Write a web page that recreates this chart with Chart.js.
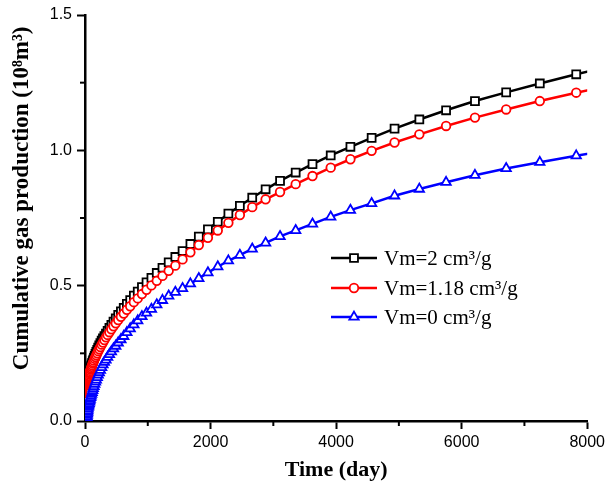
<!DOCTYPE html>
<html>
<head>
<meta charset="utf-8">
<script src="https://cdn.jsdelivr.net/npm/chart.js"></script>
<style>
  html, body { margin: 0; padding: 0; background: #fff; }
  #wrap { width: 609px; height: 489px; }
</style>
</head>
<body>
<div id="wrap"><canvas id="gas"></canvas></div>
<script>
// time steps (day)
const times = [2, 28, 31, 33, 36, 39, 42, 45, 49, 53, 57, 61, 66, 72, 77, 83, 90, 97, 105, 114,
  123, 132, 143, 155, 167, 180, 195, 210, 227, 245, 265, 286, 309, 334, 360, 389, 420, 454, 490,
  529, 572, 617, 667, 720, 778, 840, 907, 980, 1058, 1143, 1234, 1333, 1439, 1554, 1679, 1813,
  1958, 2115, 2284, 2467, 2664, 2877, 3107, 3356, 3624, 3914, 4228, 4566, 4931, 5326, 5752,
  6212, 6709, 7245, 7825, 8451];

// cumulative gas production (10^8 m3)
const vm2 = [0.076, 0.138, 0.142, 0.144, 0.148, 0.151, 0.155, 0.159, 0.163, 0.166, 0.170, 0.174,
  0.179, 0.184, 0.188, 0.193, 0.198, 0.203, 0.209, 0.215, 0.221, 0.227, 0.234, 0.241, 0.248,
  0.255, 0.263, 0.271, 0.279, 0.288, 0.297, 0.305, 0.314, 0.323, 0.333, 0.344, 0.355, 0.367,
  0.379, 0.392, 0.405, 0.418, 0.433, 0.447, 0.463, 0.478, 0.495, 0.512, 0.529, 0.547, 0.566,
  0.586, 0.606, 0.628, 0.654, 0.681, 0.708, 0.736, 0.766, 0.795, 0.825, 0.856, 0.887, 0.918,
  0.949, 0.981, 1.013, 1.046, 1.080, 1.114, 1.148, 1.182, 1.214, 1.247, 1.281, 1.316];

const vm118 = [0.072, 0.133, 0.137, 0.139, 0.143, 0.146, 0.149, 0.153, 0.157, 0.160, 0.164, 0.167,
  0.172, 0.177, 0.180, 0.185, 0.190, 0.195, 0.200, 0.206, 0.212, 0.217, 0.223, 0.230, 0.236,
  0.243, 0.250, 0.258, 0.265, 0.273, 0.282, 0.290, 0.299, 0.309, 0.318, 0.328, 0.339, 0.350,
  0.361, 0.373, 0.385, 0.397, 0.411, 0.424, 0.439, 0.453, 0.469, 0.485, 0.501, 0.518, 0.536,
  0.555, 0.574, 0.597, 0.623, 0.650, 0.677, 0.704, 0.732, 0.761, 0.790, 0.819, 0.846, 0.875,
  0.905, 0.936, 0.967, 0.998, 1.029, 1.059, 1.090, 1.121, 1.151, 1.182, 1.213, 1.244];

const vm0 = [0.000, 0.005, 0.012, 0.016, 0.022, 0.027, 0.033, 0.038, 0.045, 0.051, 0.056, 0.060,
  0.065, 0.071, 0.075, 0.081, 0.087, 0.093, 0.099, 0.106, 0.113, 0.120, 0.128, 0.136, 0.144,
  0.152, 0.161, 0.170, 0.179, 0.188, 0.198, 0.208, 0.217, 0.226, 0.236, 0.246, 0.256, 0.267,
  0.277, 0.289, 0.301, 0.313, 0.327, 0.341, 0.356, 0.371, 0.386, 0.399, 0.413, 0.430, 0.446,
  0.462, 0.476, 0.490, 0.507, 0.527, 0.548, 0.570, 0.592, 0.613, 0.636, 0.658, 0.682, 0.704,
  0.728, 0.754, 0.779, 0.804, 0.832, 0.857, 0.882, 0.908, 0.933, 0.956, 0.980, 1.004];

const seriesNames = ['Vm=2 cm\u00B3/g', 'Vm=1.18 cm\u00B3/g', 'Vm=0 cm\u00B3/g'];
const xMinorTicks = [1000, 3000, 5000, 7000];
const yMinorTicks = [0.25, 0.75, 1.25];

const pts = arr => times.map((t, i) => ({ x: t, y: arr[i] }));

function series(label, values, color, style, radius, order) {
  return {
    label: label,
    data: pts(values),
    borderColor: color,
    backgroundColor: color,
    borderWidth: 2.5,
    pointStyle: style,
    pointRadius: radius,
    pointBorderWidth: 1.8,
    pointBorderColor: color,
    pointBackgroundColor: '#fff',
    tension: 0,
    order: order
  };
}

// minor ticks and the legend box inside the plot
const extras = {
  id: 'extras',
  afterDraw(chart) {
    const ctx = chart.ctx;
    const xs = chart.scales.x, ys = chart.scales.y;
    ctx.save();
    ctx.strokeStyle = '#000';
    ctx.lineWidth = 2;
    xMinorTicks.forEach(v => {
      const px = xs.getPixelForValue(v);
      ctx.beginPath(); ctx.moveTo(px, xs.top); ctx.lineTo(px, xs.top + 5); ctx.stroke();
    });
    yMinorTicks.forEach(v => {
      const py = ys.getPixelForValue(v);
      ctx.beginPath(); ctx.moveTo(ys.right, py); ctx.lineTo(ys.right - 5, py); ctx.stroke();
    });

    const x0 = 331, x1 = 377, textX = 384;
    const rows = [258, 288, 317];
    ctx.font = '21px "Liberation Serif", "Times New Roman", serif';
    ctx.textBaseline = 'middle';
    ctx.textAlign = 'left';
    chart.data.datasets.forEach((ds, i) => {
      const y = rows[i];
      ctx.strokeStyle = ds.borderColor;
      ctx.lineWidth = ds.borderWidth;
      ctx.beginPath(); ctx.moveTo(x0, y); ctx.lineTo(x1, y); ctx.stroke();
      ctx.fillStyle = '#fff';
      ctx.lineWidth = ds.pointBorderWidth;
      Chart.helpers.drawPoint(ctx, {
        pointStyle: ds.pointStyle,
        radius: ds.pointRadius,
        rotation: 0,
        borderWidth: ds.pointBorderWidth
      }, (x0 + x1) / 2, y);
      ctx.fillStyle = '#000';
      ctx.fillText(ds.label, textX, y + 1);
    });
    ctx.restore();
  }
};

new Chart(document.getElementById('gas'), {
  type: 'line',
  data: {
    datasets: [
      series(seriesNames[0], vm2, '#000000', 'rect', 5.6, 3),
      series(seriesNames[1], vm118, '#ff0000', 'circle', 4.3, 2),
      series(seriesNames[2], vm0, '#0000ff', 'triangle', 5.4, 1)
    ]
  },
  options: {
    responsive: true,
    maintainAspectRatio: false,
    animation: false,
    devicePixelRatio: 1,
    layout: { padding: { top: 15, right: 19, left: 0, bottom: 0 } },
    plugins: {
      legend: { display: false },
      tooltip: { enabled: false }
    },
    scales: {
      x: {
        type: 'linear',
        min: 0,
        max: 8000,
        afterFit: s => { s.height = 68; },
        border: { color: '#000', width: 2.5 },
        grid: { drawOnChartArea: false, drawTicks: true, tickLength: 8, tickColor: '#000', tickWidth: 2 },
        ticks: {
          stepSize: 2000,
          padding: 4,
          color: '#000',
          font: { family: '"Liberation Sans", Arial, sans-serif', size: 16 },
          maxRotation: 0,
          callback: v => String(v)
        },
        title: {
          display: true,
          text: 'Time (day)',
          color: '#000',
          font: { family: '"Liberation Serif", "Times New Roman", serif', size: 22, weight: 'bold' },
          padding: { top: 0, bottom: 5 }
        }
      },
      y: {
        min: 0,
        max: 1.5,
        afterFit: s => { s.width = 85; },
        border: { color: '#000', width: 2.5 },
        grid: { drawOnChartArea: false, drawTicks: true, tickLength: 8, tickColor: '#000', tickWidth: 2 },
        ticks: {
          stepSize: 0.5,
          padding: 5,
          color: '#000',
          font: { family: '"Liberation Sans", Arial, sans-serif', size: 16 },
          callback: v => v.toFixed(1)
        },
        title: {
          display: true,
          align: 'end',
          text: 'Cumulative gas production (10\u2078m\u00B3)\u2002',
          color: '#000',
          font: { family: '"Liberation Serif", "Times New Roman", serif', size: 23, weight: 'bold' },
          padding: { top: 8, bottom: 0 }
        }
      }
    }
  },
  plugins: [extras]
});
</script>
</body>
</html>
